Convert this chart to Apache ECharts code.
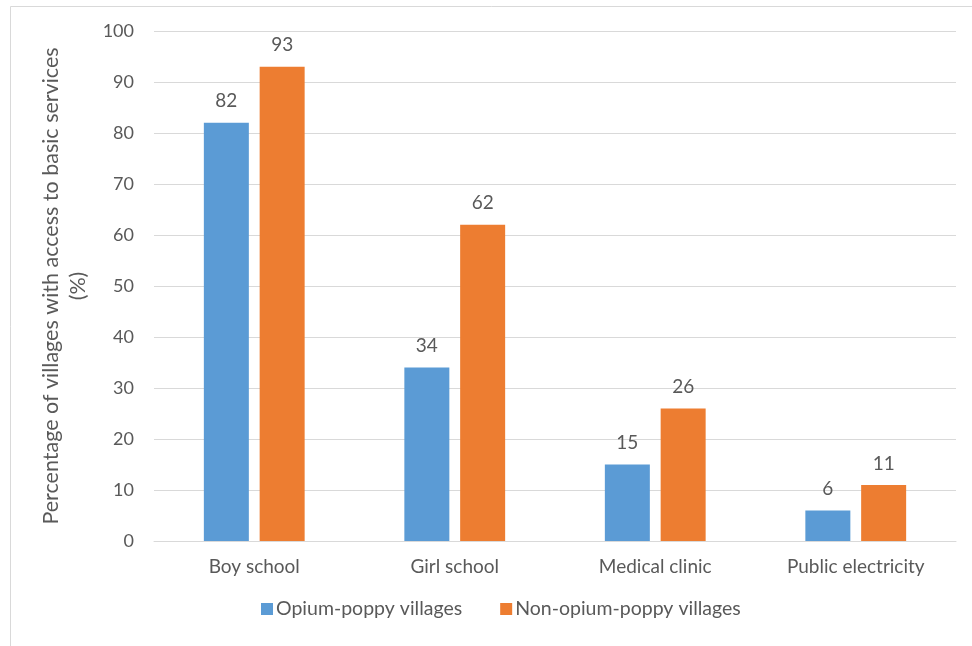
<!DOCTYPE html>
<html><head><meta charset="utf-8">
<script src="https://cdn.jsdelivr.net/npm/echarts@6/dist/echarts.min.js"></script>
<style>html,body{margin:0;padding:0;background:#fff}#c{width:972px;height:646px}</style>
</head><body><div id="c"></div>
<script>
const categories = ['Boy school', 'Girl school', 'Medical clinic', 'Public electricity'];
const opiumVillages = [82, 34, 15, 6];
const nonOpiumVillages = [93, 62, 26, 11];
const yTicks = {min: 0, max: 100, interval: 10};

const FONT = 'Lato';
const TXT = '#595959';
const chart = echarts.init(document.getElementById('c'), null, {renderer: 'canvas'});
chart.setOption({
  animation: false,
  textStyle: {fontFamily: FONT},
  graphic: [{type: 'rect', shape: {x: 10.5, y: 6.5, width: 1200, height: 1000}, style: {fill: 'none', stroke: '#d9d9d9', lineWidth: 1}, silent: true}],
  grid: {left: 154, right: 16, top: 31, bottom: 105},
  legend: {
    bottom: 22, left: 256, itemWidth: 12, itemHeight: 12, itemGap: 38,
    icon: 'rect',
    textStyle: {color: TXT, fontSize: 19.5, fontFamily: FONT, padding: [0, 0, 0, -2]}
  },
  xAxis: {
    type: 'category', data: categories,
    axisLine: {lineStyle: {color: '#d9d9d9'}},
    axisTick: {show: false},
    axisLabel: {color: TXT, fontSize: 19, margin: 16, fontFamily: FONT}
  },
  yAxis: {
    type: 'value', min: yTicks.min, max: yTicks.max, interval: yTicks.interval,
    name: 'Percentage of villages with access to basic services\n(%)',
    nameLocation: 'middle', nameGap: 57, nameRotate: 90,
    nameTextStyle: {color: TXT, fontSize: 21.5, lineHeight: 27, fontFamily: FONT},
    axisLine: {show: false}, axisTick: {show: false},
    axisLabel: {color: TXT, fontSize: 18, margin: 20, fontFamily: FONT},
    splitLine: {lineStyle: {color: '#d9d9d9'}}
  },
  series: [
    {name: 'Opium-poppy villages', type: 'bar', data: opiumVillages, barWidth: 45, barGap: '24%',
     itemStyle: {color: '#5b9bd5'},
     label: {show: true, position: 'top', distance: 12, color: TXT, fontSize: 19, fontFamily: FONT}},
    {name: 'Non-opium-poppy villages', type: 'bar', data: nonOpiumVillages, barWidth: 45,
     itemStyle: {color: '#ed7d31'},
     label: {show: true, position: 'top', distance: 12, color: TXT, fontSize: 19, fontFamily: FONT}}
  ]
});
</script></body></html>
